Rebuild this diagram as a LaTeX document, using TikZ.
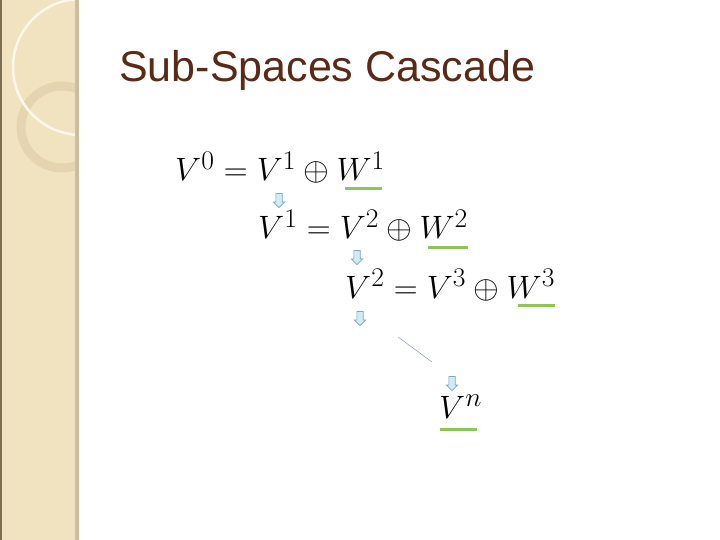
\documentclass[tikz,border=0pt]{standalone}
\usepackage{graphicx}
\usepackage{fontspec}
\setsansfont{Liberation Sans}
\usetikzlibrary{shapes.arrows}
\definecolor{side}{HTML}{F1E3C0}
\definecolor{sidelight}{HTML}{F5EAD0}
\definecolor{sideedge}{HTML}{7E6E50}
\definecolor{sideshadow}{HTML}{CBBE9E}
\definecolor{ringc}{HTML}{E4D5B0}
\definecolor{titlec}{HTML}{5A2A16}
\definecolor{ulgreen}{HTML}{8CC65A}
\definecolor{arrfill}{HTML}{D2EAF3}
\definecolor{arredge}{HTML}{7FA6BC}
\newcommand{\bigmath}[1]{\scalebox{1.33}[1.3]{\fontsize{24.88}{28}\selectfont$#1$}}
\tikzset{
  eq/.style={anchor=base west, inner sep=0pt},
  uline/.style={draw=ulgreen, line width=3pt},
  darr/.style={single arrow, rotate=-90, fill=arrfill, draw=arredge, line width=0.7pt,
    minimum width=11pt, minimum height=14pt, single arrow head extend=2.5pt, inner sep=2.8pt},
}
\begin{document}
\begin{tikzpicture}[x=1pt,y=-1pt]
\useasboundingbox (0,0) rectangle (720,540);
\fill[white] (0,0) rectangle (720,540);
% sidebar
\begin{scope}
\clip (0,0) rectangle (78,540);
\fill[side] (0,0) rectangle (78,540);
\fill[sidelight] (0,0) -- (62,0) arc[start angle=0, end angle=-90, radius=62] -- cycle;
\draw[ringc!80!brown!60, line width=0.4pt] (62,0) arc[start angle=0, end angle=-90, radius=62];
\draw[ringc, line width=9pt] (62,127) circle[radius=41];
\draw[white!70!side, line width=2.5pt] (81,67) circle[radius=68];
\end{scope}
\fill[sideshadow] (75,0) rectangle (79,540);
\fill[sideedge] (0,0) rectangle (1.5,540);
% title
\node[anchor=base west, inner sep=0pt, text=titlec, font=\sffamily\fontsize{43}{46}\selectfont] (title) at (119,82) {Sub-Spaces Cascade};
% equations
\node[eq] (e1) at (175,181) {\bigmath{V^0 = V^1 \oplus W^1}};
\node[eq] (e2) at (258,239) {\bigmath{V^1 = V^2 \oplus W^2}};
\node[eq] (e3) at (345,298) {\bigmath{V^2 = V^3 \oplus W^3}};
\node[eq] (vn) at (439,418) {\bigmath{V^n}};
\draw[uline] (345,189) -- (382,189);
\draw[uline] (428,247) -- (468,247);
\draw[uline] (518,305) -- (555,305);
\draw[uline] (440,429) -- (477,429);
% arrows
\node[darr] (a1) at (279,199) {};
\node[darr] (a2) at (357,256) {};
\node[darr] (a3) at (360,317) {};
\node[darr] (a4) at (452,382) {};
\coordinate (d1) at (398,337);
\coordinate (d2) at (432,362);
\draw[arredge!80!gray, line width=0.5pt] (d1) -- (d2);
\end{tikzpicture}
\end{document}
